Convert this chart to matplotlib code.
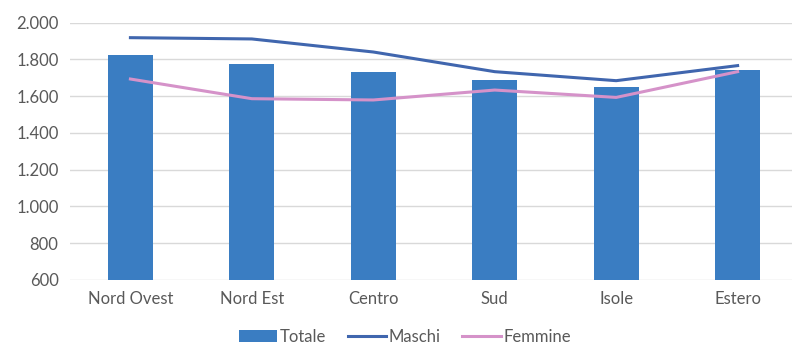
import matplotlib.pyplot as plt
import matplotlib.ticker as mticker
import numpy as np

plt.rcParams['font.family'] = ['Lato', 'DejaVu Sans']

aree = ['Nord Ovest', 'Nord Est', 'Centro', 'Sud', 'Isole', 'Estero']
totale = [1824, 1775, 1730, 1688, 1651, 1742]
maschi = [1918, 1911, 1840, 1733, 1684, 1766]
femmine = [1693, 1586, 1579, 1633, 1593, 1733]

x = np.arange(len(aree))

fig = plt.figure(figsize=(7.92, 3.53), dpi=100)
ax = fig.add_axes([0.088, 0.207, 0.92, 0.729])

b = ax.bar(x, totale, width=0.37, color='#3A7DC2', label='Totale', zorder=2)
l1, = ax.plot(x, maschi, color='#4066AE', lw=2.2, label='Maschi', zorder=3)
l2, = ax.plot(x, femmine, color='#D592C9', lw=2.2, label='Femmine', zorder=3)

ax.set_ylim(600, 2000)
ax.set_xlim(-0.5, len(aree) - 0.5)
ax.set_yticks(np.arange(600, 2001, 200))
ax.yaxis.set_major_formatter(mticker.FuncFormatter(lambda v, p: f'{int(v):,}'.replace(',', '.')))
ax.set_xticks(x)
ax.set_xticklabels(aree)

ax.grid(axis='y', color='#D9D9D9', lw=1, zorder=0)
for s in ax.spines.values():
    s.set_visible(False)
ax.tick_params(length=0, labelsize=12, labelcolor='#595959', pad=8)
ax.tick_params(axis='x', pad=8)

ax.legend([b, l1, l2], ['Totale', 'Maschi', 'Femmine'],
          loc='upper center', bbox_to_anchor=(0.46, -0.145), ncol=3, frameon=False,
          fontsize=12, labelcolor='#595959', handlelength=2.3, handletextpad=0.15,
          columnspacing=1.3, borderpad=0.2)

plt.savefig('out.png')
